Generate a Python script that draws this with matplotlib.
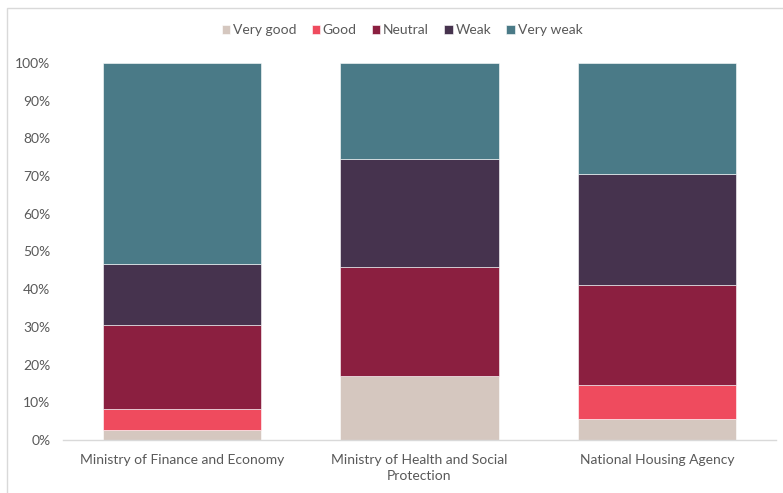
import matplotlib
matplotlib.use("Agg")
import matplotlib.pyplot as plt
from matplotlib.patches import Rectangle
from matplotlib.ticker import FuncFormatter

categories = ["Ministry of Finance and Economy",
              "Ministry of Health and Social\nProtection",
              "National Housing Agency"]
series_names = ["Very good", "Good", "Neutral", "Weak", "Very weak"]
very_good = [2.6, 17.0, 5.7]
good = [5.7, 0.0, 8.8]
neutral = [22.2, 28.8, 26.5]
weak = [16.3, 28.7, 29.5]
very_weak = [53.2, 25.5, 29.5]
yticks = [0, 10, 20, 30, 40, 50, 60, 70, 80, 90, 100]

colors = ["#D5C7BF", "#EF4B5E", "#8B1F40", "#46334E", "#4A7A87"]
series = [very_good, good, neutral, weak, very_weak]

plt.rcParams["font.family"] = ["Lato", "DejaVu Sans"]
W, H = 783, 493
fig = plt.figure(figsize=(W / 100, H / 100), dpi=100)

# light chart-area frame
fig.patches.append(Rectangle((7 / W, -0.1), 1.2, (H - 8) / H + 0.1,
                             transform=fig.transFigure, fill=False,
                             edgecolor="#D9D9D9", linewidth=1.0))

ax = fig.add_axes([63 / W, 1 - 440 / H, (776 - 63) / W, (440 - 63) / H])
x = range(len(categories))
bottom = [0.0] * len(categories)
for name, vals, col in zip(series_names, series, colors):
    ax.bar(x, vals, width=0.667, bottom=bottom, color=col, label=name,
           edgecolor="white", linewidth=0.4)
    bottom = [b + v for b, v in zip(bottom, vals)]

ax.set_xlim(-0.5, 2.5)
ax.set_ylim(0, 100)
ax.set_yticks(yticks)
ax.yaxis.set_major_formatter(FuncFormatter(lambda v, p: f"{v:.0f}%"))
ax.set_xticks(list(x))
ax.set_xticklabels(categories, linespacing=1.45)
for s in ["top", "right", "left"]:
    ax.spines[s].set_visible(False)
ax.spines["bottom"].set_color("#D9D9D9")
ax.spines["bottom"].set_linewidth(1.0)
ax.tick_params(axis="both", length=0, colors="#595959", labelsize=10)
ax.tick_params(axis="y", pad=9)
ax.tick_params(axis="x", pad=10)

fig.legend(*ax.get_legend_handles_labels(), loc="center",
           bbox_to_anchor=(402 / W, 1 - 30 / H), ncol=5, frameon=False,
           fontsize=10, handlelength=0.6, handleheight=0.6,
           handletextpad=0.2, columnspacing=1.1, labelcolor="#595959")

fig.savefig("out.png", dpi=100)
